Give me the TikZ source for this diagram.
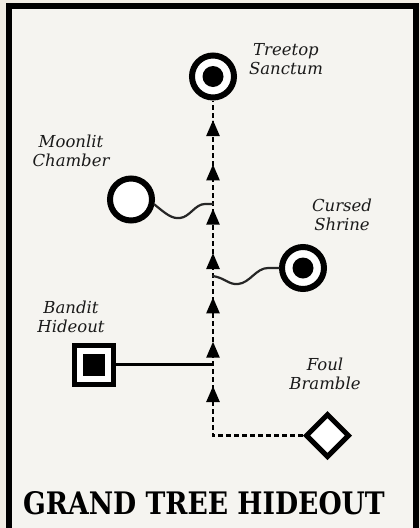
\documentclass[tikz,border=0pt]{standalone}
\usepackage{fontspec}
\setmainfont{DejaVu Serif}
\newfontfamily\titlefont{DejaVu Serif}[FakeStretch=0.86]
\usetikzlibrary{arrows.meta,decorations.markings,shapes.geometric}

\definecolor{bgout}{HTML}{F1EDE4}
\definecolor{panel}{HTML}{F5F4F0}
\definecolor{ink}{HTML}{1A1A1A}

\begin{document}
\begin{tikzpicture}[x=1pt,y=-1pt,
    room/.style={circle,draw=black,line width=6pt,fill=white,minimum size=42pt,inner sep=0pt},
    goal/.style={room,path picture={\fill[black] (path picture bounding box.center) circle (10.5pt);}},
    lair/.style={rectangle,draw=black,line width=5pt,fill=white,minimum size=39pt,inner sep=0pt,
        path picture={\node[fill=black,minimum size=22pt,inner sep=0pt] at (path picture bounding box.center) {};}},
    thorn/.style={diamond,draw=black,line width=5pt,fill=white,minimum width=44pt,minimum height=44pt,inner sep=0pt},
    tag/.style={font=\itshape\fontsize{16.5}{19}\selectfont,align=center,text=ink},
    trail/.style={line width=2.5pt,dash pattern=on 5pt off 3pt},
    vine/.style={line width=2.2pt,black!85,line cap=round},
    climb/.style={postaction={decorate},decoration={markings,
        mark=between positions 139.5pt and 406pt step 44.33pt with {\arrow{Triangle[length=16pt,width=13pt]}}}}
]
    \useasboundingbox (0,0) rectangle (420,528);
    \clip (0,0) rectangle (420,528);
    \fill[bgout] (0,0) rectangle (420,528);
    \fill[panel] (9,6) rectangle (415.5,600);
    \draw[line width=6pt] (9,6) rectangle (415.5,600);

    \node[goal] (treetop) at (213,76.5) {};
    \node[room] (moonlit) at (131,199.5) {};
    \node[goal] (cursed) at (303,268) {};
    \node[lair] (bandit) at (94,364.5) {};
    \node[thorn] (bramble) at (327.5,435.5) {};

    \node[tag] (treetoptxt) at (286,59) {Treetop\\Sanctum};
    \node[tag] (moonlittxt) at (71,151) {Moonlit\\Chamber};
    \node[tag] (cursedtxt) at (342,215) {Cursed\\Shrine};
    \node[tag] (bandittxt) at (71,317) {Bandit\\Hideout};
    \node[tag] (brambletxt) at (325,374) {Foul\\Bramble};

    \coordinate (corner) at (treetop |- bramble);
    \coordinate (bfork) at (treetop |- bandit);
    \coordinate (cfork) at (213,276);
    \coordinate (mfork) at (213,204);

    \draw[trail,climb] (bramble) -- (corner) -- (treetop);
    \draw[line width=2.2pt] (bandit) -- (bfork);
    \draw[vine] (cfork) .. controls (225,278) and (229,285) .. (238,284)
        .. controls (250,283) and (256,268) .. (268,268) -- (cursed.west);
    \draw[vine] (moonlit.-12) .. controls (166,214) and (172,219) .. (180,218)
        .. controls (190,217) and (195,204) .. (205,204) -- (mfork);

    \node[font=\titlefont\bfseries\fontsize{31}{31}\selectfont,text=black] (title) at (204,503.5) {GRAND TREE HIDEOUT};
\end{tikzpicture}
\end{document}
